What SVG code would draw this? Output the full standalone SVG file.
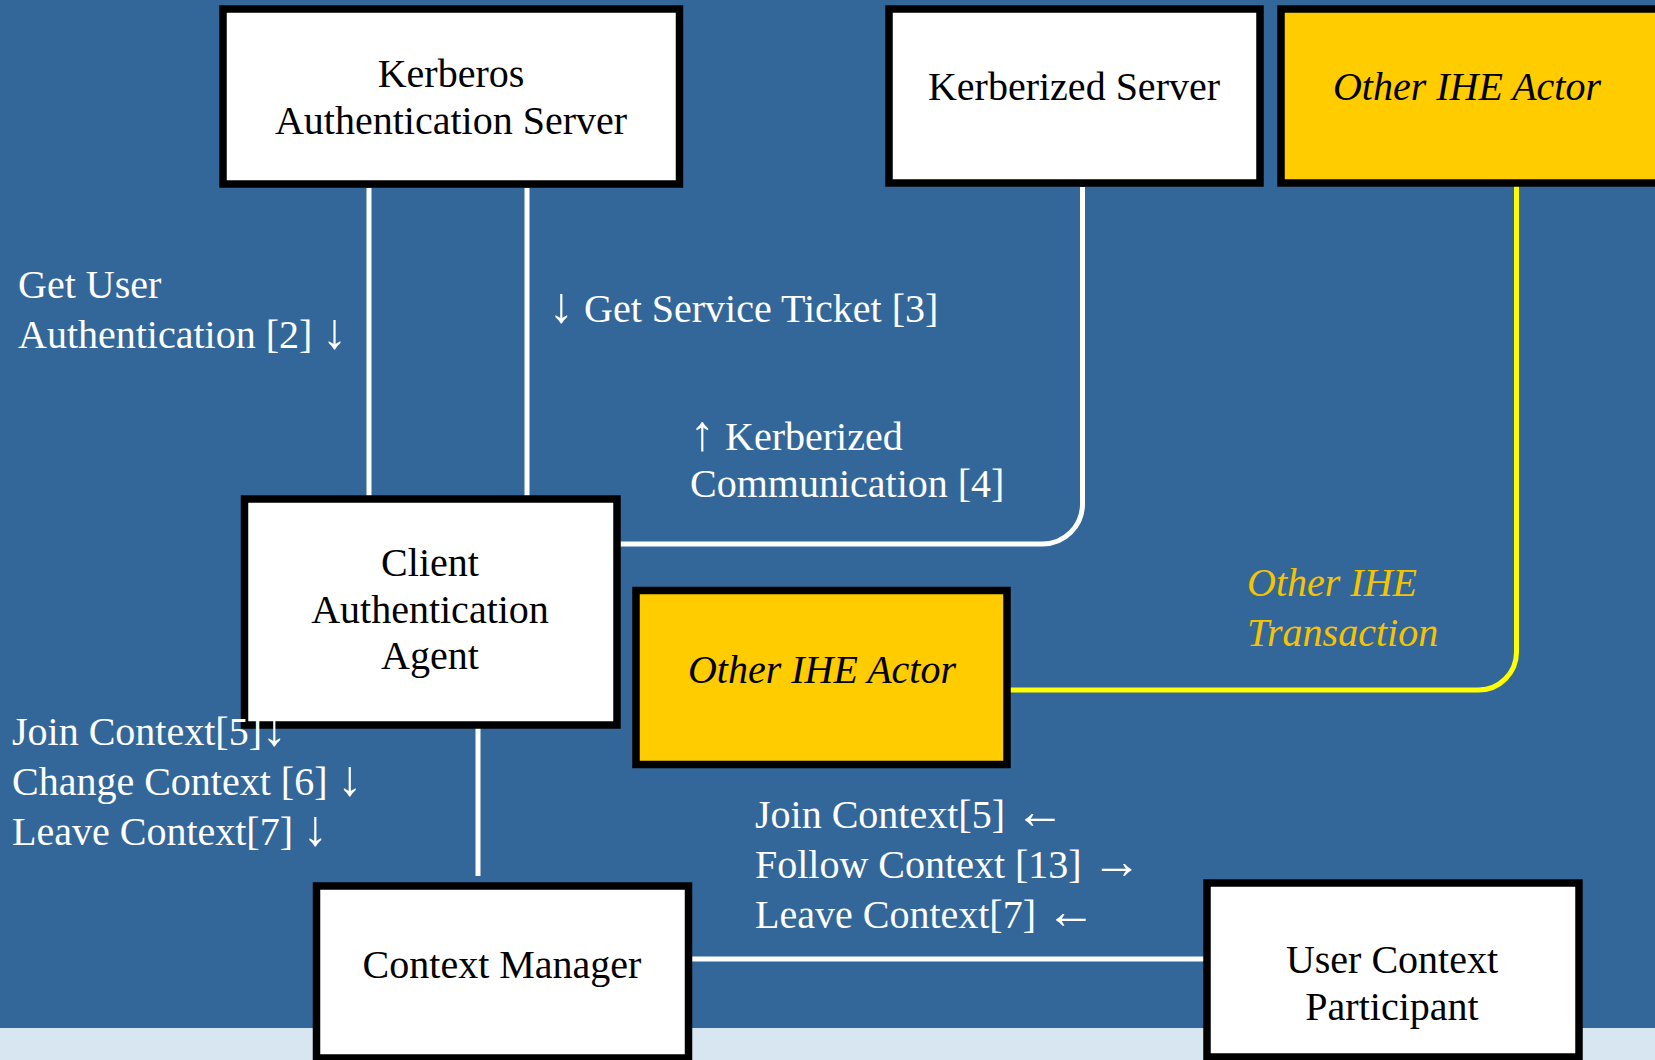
<svg xmlns="http://www.w3.org/2000/svg" width="1655" height="1060" viewBox="0 0 1655 1060">
<style>
.bg{fill:#346799}
.node{stroke:#000;stroke-width:7.5}
.white{fill:#fff}
.gold{fill:#FFCC00}
.nt{font-family:"Liberation Serif","Times New Roman",serif;font-size:40px;fill:#000;text-anchor:middle}
.it{font-style:italic}
.lbl{font-family:"Liberation Serif","Times New Roman",serif;font-size:40px;fill:#fff}
.ar{font-size:50px}
.ylbl{font-family:"Liberation Serif","Times New Roman",serif;font-size:40px;fill:#F5C400;font-style:italic}
.cw{fill:none;stroke:#fff;stroke-width:5}
.cy{fill:none;stroke:#FFFF00;stroke-width:5}
</style>
<rect class="bg" x="0" y="0" width="1655" height="1060"/>
<rect x="0" y="1028" width="1655" height="32" fill="#D8E6F2"/>
<g id="connectors">
<line class="cw" x1="369" y1="188" x2="369" y2="496"/>
<line class="cw" x1="527" y1="188" x2="527" y2="496"/>
<path class="cw" d="M1082.5 187 L1082.5 504 A40 40 0 0 1 1042.5 544 L620 544"/>
<path class="cy" d="M1516.5 183 L1516.5 652 A38 38 0 0 1 1478.5 690 L1010 690"/>
<line class="cw" x1="478" y1="728" x2="478" y2="876"/>
<line class="cw" x1="692" y1="959" x2="1207" y2="959"/>
</g>
<g id="kerberos-as">
<rect class="node white" x="223" y="9" width="456.5" height="175"/>
<text class="nt" x="451" y="87">Kerberos</text>
<text class="nt" x="451" y="134">Authentication Server</text>
</g>
<g id="kerberized-server">
<rect class="node white" x="889" y="9" width="371" height="174"/>
<text class="nt" x="1074" y="100">Kerberized Server</text>
</g>
<g id="other-ihe-actor-top">
<rect class="node gold" x="1281" y="9" width="385" height="174"/>
<text class="nt it" x="1467" y="100">Other IHE Actor</text>
</g>
<g id="client-auth-agent">
<rect class="node white" x="244.5" y="499" width="372.5" height="226"/>
<text class="nt" x="430" y="576">Client</text>
<text class="nt" x="430" y="623">Authentication</text>
<text class="nt" x="430" y="669">Agent</text>
</g>
<g id="other-ihe-actor-mid">
<rect class="node gold" x="636" y="590.5" width="371" height="174"/>
<text class="nt it" x="822" y="683">Other IHE Actor</text>
</g>
<g id="context-manager">
<rect class="node white" x="316.5" y="886" width="372" height="172"/>
<text class="nt" x="502" y="978">Context Manager</text>
</g>
<g id="user-context-participant">
<rect class="node white" x="1207" y="883" width="372" height="174"/>
<text class="nt" x="1392" y="973">User Context</text>
<text class="nt" x="1392" y="1020">Participant</text>
</g>
<g id="labels">
<text class="lbl" x="18" y="298">Get User</text>
<text class="lbl" x="18" y="348">Authentication [2] <tspan class="ar">↓</tspan></text>
<text class="lbl" x="549" y="322"><tspan class="ar">↓</tspan> Get Service Ticket [3]</text>
<text class="lbl" x="690" y="450"><tspan class="ar">↑</tspan> Kerberized</text>
<text class="lbl" x="690" y="497">Communication [4]</text>
<text class="ylbl" x="1247" y="596">Other IHE</text>
<text class="ylbl" x="1247" y="646">Transaction</text>
<text class="lbl" x="12" y="745">Join Context[5]<tspan class="ar">↓</tspan></text>
<text class="lbl" x="12" y="795">Change Context [6] <tspan class="ar">↓</tspan></text>
<text class="lbl" x="12" y="845">Leave Context[7] <tspan class="ar">↓</tspan></text>
<text class="lbl" x="755" y="828">Join Context[5] <tspan class="ar">←</tspan></text>
<text class="lbl" x="755" y="878">Follow Context [13] <tspan class="ar">→</tspan></text>
<text class="lbl" x="755" y="928">Leave Context[7] <tspan class="ar">←</tspan></text>
</g>
</svg>
